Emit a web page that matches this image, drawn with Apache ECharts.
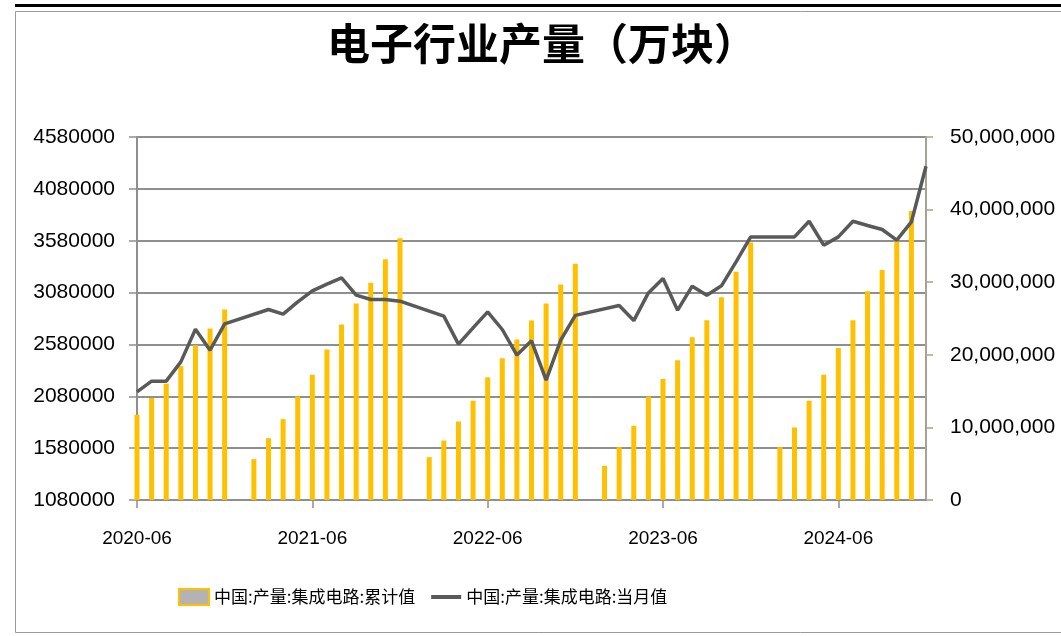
<!DOCTYPE html>
<html>
<head>
<meta charset="utf-8">
<script src="https://cdn.jsdelivr.net/npm/echarts@6/dist/echarts.min.js"></script>
<style>
html,body{margin:0;padding:0;background:#fff;}
#chart{width:1061px;height:636px;}
</style>
</head>
<body>
<div id="chart"></div>
<script>
const categories = [
 '2020-06','2020-07','2020-08','2020-09','2020-10','2020-11','2020-12',
 '2021-01','2021-02','2021-03','2021-04','2021-05','2021-06','2021-07','2021-08','2021-09','2021-10','2021-11','2021-12',
 '2022-01','2022-02','2022-03','2022-04','2022-05','2022-06','2022-07','2022-08','2022-09','2022-10','2022-11','2022-12',
 '2023-01','2023-02','2023-03','2023-04','2023-05','2023-06','2023-07','2023-08','2023-09','2023-10','2023-11','2023-12',
 '2024-01','2024-02','2024-03','2024-04','2024-05','2024-06','2024-07','2024-08','2024-09','2024-10','2024-11','2024-12'
];
// 中国:产量:集成电路:累计值 (右轴)
const cumulative = [
 11740000,14050000,16020000,18410000,21310000,23620000,26240000,
 null,5620000,8520000,11140000,14270000,17270000,20720000,24170000,27070000,29930000,33150000,36050000,
 null,5900000,8190000,10820000,13670000,16900000,19520000,22100000,24720000,27070000,29700000,32550000,
 null,4700000,7280000,10220000,14270000,16670000,19240000,22420000,24770000,27940000,31450000,35460000,
 null,7280000,9990000,13670000,17270000,20950000,24770000,28770000,31670000,35590000,39820000,null
];
// 中国:产量:集成电路:当月值 (左轴)
const monthly = [
 2123000,2226000,2226000,2412000,2727000,2525000,2778000,
 null,null,2917000,2872000,2990000,3096000,3161000,3222000,3055000,3013000,3013000,2997000,
 null,null,2853000,2583000,2740000,2894000,2724000,2477000,2615000,2236000,2621000,2860000,
 null,null,2955000,2810000,3077000,3215000,2910000,3142000,3055000,3145000,3376000,3617000,
 null,null,3617000,3768000,3537000,3617000,3768000,3727000,3688000,3585000,3761000,4298000
];
const leftAxis = {min:1080000, max:4580000, interval:500000};
const rightAxis = {min:0, max:50000000, interval:10000000};
const titleText = '电子行业产量（万块）';
const seriesNames = ['中国:产量:集成电路:累计值','中国:产量:集成电路:当月值'];

const chart = echarts.init(document.getElementById('chart'), null, {renderer:'canvas'});
const numFont = "'Liberation Sans', Arial, sans-serif";
const cjkFont = "'Noto Sans CJK SC', sans-serif";

chart.setOption({
  animation:false,
  backgroundColor:'#fff',
  graphic:[
    {type:'rect', shape:{x:15,y:4,width:1050,height:3}, style:{fill:'#000'}, silent:true},
    {type:'rect', shape:{x:15.5,y:11.5,width:1060,height:621}, style:{fill:'none', stroke:'#9a9a9a', lineWidth:1}, silent:true}
  ],
  title:{
    text:titleText, left:322, top:17,
    textStyle:{fontFamily:cjkFont, fontSize:43, fontWeight:'bold', color:'#000'}
  },
  legend:{
    left:173, top:583, itemWidth:30, itemHeight:16, itemGap:16,
    textStyle:{fontFamily:cjkFont, fontSize:17, color:'#000'},
    data:[
      {name:seriesNames[0], icon:'rect', itemStyle:{color:'#b3b3b3', borderColor:'#FFC000', borderWidth:2}},
      {name:seriesNames[1], icon:'path://M0 0H30V4H0Z', itemStyle:{color:'#595959'}}
    ]
  },
  grid:{left:137, right:135, top:137, bottom:136},
  xAxis:{
    type:'category', data:categories, boundaryGap:false,
    axisLine:{lineStyle:{color:'#8f8f8f', width:2}},
    axisTick:{interval:11, length:8, lineStyle:{color:'#8f8f8f', width:1.5}},
    axisLabel:{interval:11, margin:29, fontFamily:numFont, fontSize:19, color:'#000'},
    splitLine:{show:false}
  },
  yAxis:[
    {
      type:'value', position:'left', min:leftAxis.min, max:leftAxis.max, interval:leftAxis.interval,
      axisLine:{show:true, lineStyle:{color:'#8f8f8f', width:2}},
      axisTick:{show:true, length:8, lineStyle:{color:'#8f8f8f', width:1.5}},
      axisLabel:{margin:22, fontFamily:numFont, fontSize:21, color:'#000', formatter:v => String(v)},
      splitLine:{show:true, lineStyle:{color:'#8f8f8f', width:2}}
    },
    {
      type:'value', position:'right', min:rightAxis.min, max:rightAxis.max, interval:rightAxis.interval,
      axisLine:{show:true, lineStyle:{color:'#a8a293', width:2}},
      axisTick:{show:true, length:7, lineStyle:{color:'#a8a293', width:1.5}},
      axisLabel:{margin:24, fontFamily:numFont, fontSize:21, color:'#000',
        formatter:v => Number(v).toLocaleString('en-US')},
      splitLine:{show:false}
    }
  ],
  series:[
    {
      name:seriesNames[0], type:'bar', yAxisIndex:1, data:cumulative,
      barWidth:5, itemStyle:{color:'#FFC000'}, clip:false, z:2
    },
    {
      name:seriesNames[1], type:'line', yAxisIndex:0, data:monthly,
      connectNulls:true, symbol:'none', z:3,
      lineStyle:{color:'#595959', width:3.5}, itemStyle:{color:'#595959'}
    }
  ]
});
</script>
</body>
</html>
